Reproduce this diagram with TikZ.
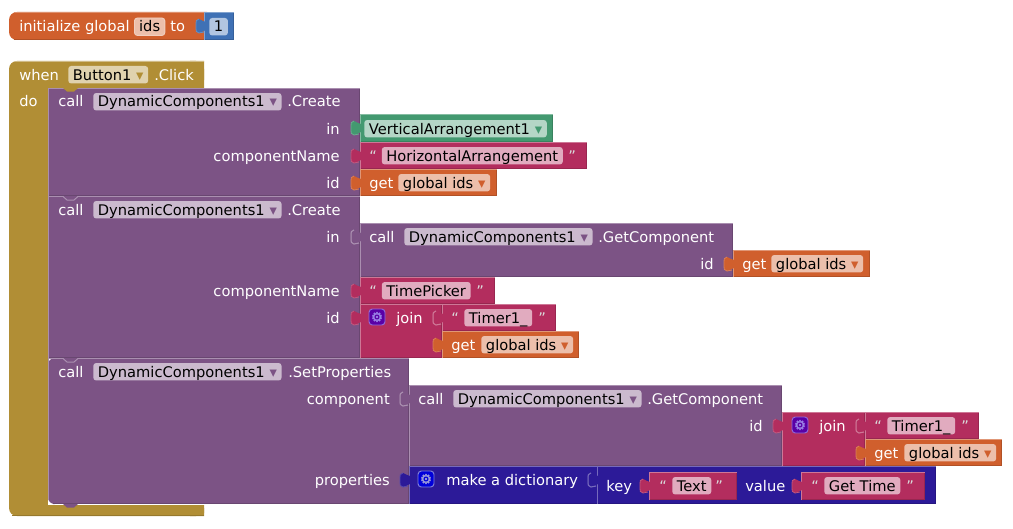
\documentclass[tikz,border=0pt]{standalone}
\usepackage{fontspec}
\setmainfont{DejaVu Sans}
\newfontfamily\gearfont[FakeBold=2.5]{DejaVu Sans}
\usetikzlibrary{positioning}
\definecolor{var colour}{HTML}{D05F2D}
\definecolor{num colour}{HTML}{3F71B5}
\definecolor{ctl colour}{HTML}{B18E35}
\definecolor{call colour}{HTML}{7C5385}
\definecolor{comp colour}{HTML}{439970}
\definecolor{text colour}{HTML}{B32D5E}
\definecolor{dict colour}{HTML}{2C1A98}
\tikzset{
    % Words on a block
    word/.style={anchor=base west, inner sep=0, text=white, font=\fontsize{11}{13}\selectfont},
    right word/.style={word, anchor=base east},
    quote/.style={word, text=white!85!black},
    % Editable fields on a block
    field/.style={
        anchor=base west, fill=#1!40!white, text=black, rounded corners=2.2pt,
        inner xsep=3.5pt, inner ysep=0, text height=10.5pt, text depth=2.6pt,
        font=\fontsize{11}{13}\selectfont},
    % The gear button
    gear/.style={
        draw=white!60!#1, fill=#1, text=white!70!#1, rounded corners=2.5pt, line width=0.7pt,
        minimum size=12pt, inner sep=0, font=\gearfont\fontsize{10}{10}\selectfont},
}
% Block body with light top and left edges, dark bottom and right edges
\newcommand{\block}[5]{
    \fill [#5] (#1,#2) rectangle (#3,#4);
    \draw [#5!85!black, line width=0.75pt] (#1,#4-0.5) -- (#3-0.5,#4-0.5) -- (#3-0.5,#2);
    \draw [#5!65!white, line width=0.75pt] (#1+0.5,#4) -- (#1+0.5,#2+0.5) -- (#3,#2+0.5);
}
% Input tab, to the left of x, top of the block at y
\newcommand{\tab}[3]{
    \fill [#3] (#1+1,#2+10) .. controls (#1-1,#2+10) and (#1-3,#2+8) .. (#1-6,#2+7)
        .. controls (#1-9,#2+7) and (#1-9,#2+9) .. (#1-9,#2+14)
        .. controls (#1-9,#2+19) and (#1-9,#2+21) .. (#1-6,#2+21)
        .. controls (#1-3,#2+21) and (#1-1,#2+18) .. (#1+1,#2+18) -- cycle;
    \draw [#3!80!white, line width=0.6pt] (#1-1,#2+20) .. controls (#1-3,#2+21) .. (#1-6,#2+21)
        .. controls (#1-9,#2+21) and (#1-9,#2+19) .. (#1-9,#2+14)
        .. controls (#1-9,#2+9) and (#1-9,#2+7) .. (#1-6,#2+7);
}
% Same tab on a block of its own colour: only its outline shows
\newcommand{\emptytab}[3]{
    \tab{#1}{#2}{#3}
    \draw [#3!65!white, line width=0.75pt] (#1-1,#2+20) .. controls (#1-3,#2+21) .. (#1-6,#2+21)
        .. controls (#1-9,#2+21) and (#1-9,#2+19) .. (#1-9,#2+14)
        .. controls (#1-9,#2+9) and (#1-9,#2+7) .. (#1-6,#2+7);
}
% Notch between stacked blocks
\newcommand{\notch}[3]{
    \fill [#3] (#1,#2) -- (#1+4,#2+3.5) -- (#1+11,#2+3.5) -- (#1+15,#2) -- cycle;
}
% Notch with the light edge of the block below it
\newcommand{\edgenotch}[2]{
    \notch{#1}{#2}{call colour}
    \draw [call colour!65!white, line width=0.75pt] (#1,#2+0.5) -- (#1+4,#2+4) -- (#1+11,#2+4) -- (#1+15,#2+0.5);
}
\newcommand{\drop}[1]{\hspace{3.6pt}\textcolor{#1}{▾}}

\begin{document}
\begin{tikzpicture}[x=0.75pt, y=-0.75pt]
\useasboundingbox (0,0) rectangle (1013,528);

% Variable
\fill [var colour, rounded corners=6pt] (9,12) rectangle (215,40);
\block{204}{12}{234}{40}{num colour}
\draw [var colour!85!black, line width=0.75pt] (14,39.5) -- (204,39.5);
\draw [var colour!70!white, line width=0.75pt] (14,12.5) -- (204,12.5);
\tab{205}{12}{num colour}
\path
    (19,32) node [word] (initialize) {initialize global}
    (134,32) node [field=var colour, draw=white!70!var colour, line width=0.7pt] (ids) {ids}
    (170,32) node [word] (to) {to}
    (209,32) node [field=num colour] (one) {1};

% Event
\fill [ctl colour, rounded corners=6pt] (9,61) -- (204,61) -- (204,88) -- (48,88) -- (48,505)
    -- (204,505) -- (204,516) -- (9,516) -- cycle;
\fill [ctl colour] (190,61) rectangle (204,88) (190,505) rectangle (204,516);
\draw [ctl colour!60!white, line width=0.75pt] (15,61.5) -- (204,61.5);
\draw [ctl colour!85!black, line width=0.75pt] (12,515.5) -- (204,515.5);
\path
    (19,80) node [word] (when) {when}
    (68,80) node [field=ctl colour] (button) {Button1\drop{ctl colour}}
    (154,80) node [word] (click) {.Click}
    (19,106) node [word] (do) {do};

% Calls
\fill [white] (48,496) rectangle (60,505);
\fill [call colour, rounded corners=5pt] (48,358) rectangle (60,504);
\block{48}{88}{360}{196}{call colour}
\block{48}{196}{360}{358}{call colour}
\fill [call colour] (53,358) rectangle (409,504);
\draw [call colour!85!black, line width=0.75pt] (53,503.5) -- (408.5,503.5) -- (408.5,358);
\draw [call colour!65!white, line width=0.75pt] (48.5,500) -- (48.5,358.5) -- (409,358.5);
\notch{63}{88}{ctl colour}
\edgenotch{63}{196}
\edgenotch{63}{358}
\notch{63}{504}{call colour}
\path
    (58,107) node [word] (call a) {call}
    (93,107) node [field=call colour] (dyn a) {DynamicComponents1\drop{call colour}}
    (287,107) node [word] (create a) {.Create}
    (340,134) node [right word] (in a) {in}
    (340,161) node [right word] (name a) {componentName}
    (340,188) node [right word] (id a) {id}
    (58,215) node [word] (call b) {call}
    (93,215) node [field=call colour] (dyn b) {DynamicComponents1\drop{call colour}}
    (287,215) node [word] (create b) {.Create}
    (340,242) node [right word] (in b) {in}
    (340,296) node [right word] (name b) {componentName}
    (340,323) node [right word] (id b) {id}
    (58,377) node [word] (call c) {call}
    (93,377) node [field=call colour] (dyn c) {DynamicComponents1\drop{call colour}}
    (288,377) node [word] (set c) {.SetProperties}
    (390,404) node [right word] (component c) {component}
    (390,485) node [right word] (properties c) {properties};

% First call's arguments
\block{360}{114}{553}{142}{comp colour}
\tab{360}{114}{comp colour}
\block{360}{142}{587}{169}{text colour}
\tab{360}{142}{text colour}
\block{360}{169}{497}{196}{var colour}
\tab{360}{169}{var colour}
\path
    (364,134) node [field=comp colour] (vertical) {VerticalArrangement1\drop{comp colour}}
    (369,161) node [quote] (open h) {“}
    (381.5,161) node [field=text colour] (horizontal) {HorizontalArrangement}
    (568,161) node [quote] (close h) {”}
    (369,188) node [word] (get a) {get}
    (398,188) node [field=var colour] (global a) {global ids\drop{var colour}};

% Second call's arguments
\block{360}{223}{733}{277}{call colour}
\emptytab{360}{223}{call colour}
\block{733}{250}{870}{277}{var colour}
\tab{733}{250}{var colour}
\block{360}{277}{495}{304}{text colour}
\tab{360}{277}{text colour}
\block{360}{304}{442}{358}{text colour}
\tab{360}{304}{text colour}
\block{442}{304}{556}{331}{text colour}
\emptytab{442}{304}{text colour}
\block{442}{331}{579}{358}{var colour}
\tab{442}{331}{var colour}
\path
    (369,242) node [word] (call d) {call}
    (404,242) node [field=call colour] (dyn d) {DynamicComponents1\drop{call colour}}
    (598,242) node [word] (get comp d) {.GetComponent}
    (714,269) node [right word] (id d) {id}
    (742,269) node [word] (get d) {get}
    (771,269) node [field=var colour] (global d) {global ids\drop{var colour}}
    (369,296) node [quote] (open t) {“}
    (381.5,296) node [field=text colour] (time picker) {TimePicker}
    (476,296) node [quote] (close t) {”}
    (377,317) node [gear=violet!70!blue] (gear e) {⚙}
    (396,323) node [word] (join e) {join}
    (451,323) node [quote] (open e) {“}
    (464,323) node [field=text colour] (timer e) {Timer1\_}
    (538,323) node [quote] (close e) {”}
    (451,350) node [word] (get e) {get}
    (481,350) node [field=var colour] (global e) {global ids\drop{var colour}};

% Third call's arguments
\block{409}{385}{782}{466}{call colour}
\emptytab{409}{385}{call colour}
\block{782}{412}{865}{466}{text colour}
\tab{782}{412}{text colour}
\block{865}{412}{979}{439}{text colour}
\emptytab{865}{412}{text colour}
\block{865}{439}{1002}{466}{var colour}
\tab{865}{439}{var colour}
\block{409}{466}{936}{504}{dict colour}
\tab{409}{466}{dict colour}
\draw [dict colour!65!white, line width=0.75pt] (597,466) -- (597,504);
\emptytab{597}{466}{dict colour}
\block{649}{472}{737}{500}{text colour}
\tab{649}{472}{text colour}
\block{801}{472}{925}{500}{text colour}
\tab{801}{472}{text colour}
\path
    (418,404) node [word] (call f) {call}
    (453,404) node [field=call colour] (dyn f) {DynamicComponents1\drop{call colour}}
    (647,404) node [word] (get comp f) {.GetComponent}
    (763,431) node [right word] (id f) {id}
    (800,425) node [gear=violet!70!blue] (gear g) {⚙}
    (819,431) node [word] (join g) {join}
    (874,431) node [quote] (open g) {“}
    (887,431) node [field=text colour] (timer g) {Timer1\_}
    (961,431) node [quote] (close g) {”}
    (874,458) node [word] (get g) {get}
    (904,458) node [field=var colour] (global g) {global ids\drop{var colour}}
    (426,479) node [gear=blue!85!black] (gear h) {⚙}
    (446,485) node [word] (make h) {make a dictionary}
    (606,491) node [word] (key h) {key}
    (659,491) node [quote] (open k) {“}
    (672,491) node [field=text colour] (key text) {Text}
    (715,491) node [quote] (close k) {”}
    (745,491) node [word] (value h) {value}
    (811,491) node [quote] (open v) {“}
    (824,491) node [field=text colour] (value text) {Get Time}
    (906,491) node [quote] (close v) {”};

\end{tikzpicture}
\end{document}
